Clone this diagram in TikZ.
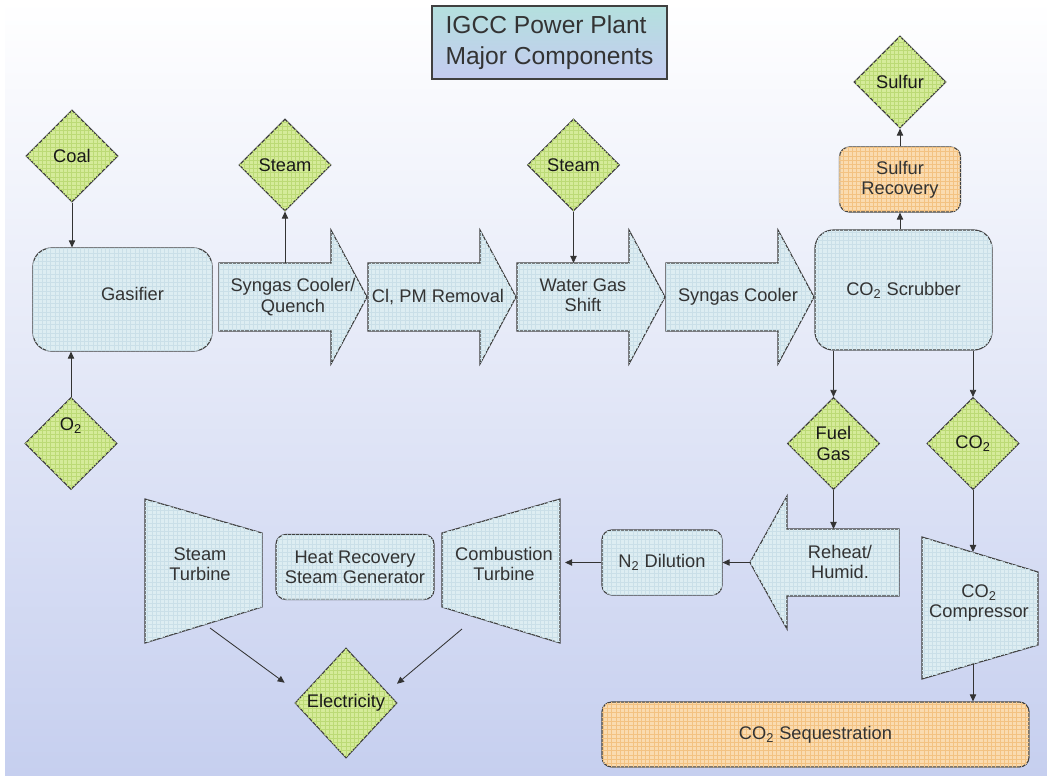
\documentclass[tikz,border=0pt]{standalone}
\usepackage{xcolor}
\usepackage{fontspec}
\setmainfont{Liberation Sans}
\usepackage{tikz}
\usetikzlibrary{shapes,arrows.meta,patterns,positioning,calc}

\definecolor{bgbot}{HTML}{C6CFEF}
\definecolor{ttltop}{HTML}{B4E0DE}
\definecolor{ttlbot}{HTML}{C4CBF0}
\definecolor{boxfill}{HTML}{DDEDF2}
\definecolor{boxgrid}{HTML}{CADFE8}
\definecolor{gfill}{HTML}{D5EB9A}
\definecolor{ggrid}{HTML}{BCDA76}
\definecolor{ofill}{HTML}{FADBB0}
\definecolor{ogrid}{HTML}{F3C282}
\definecolor{edge}{HTML}{404040}
\definecolor{txt}{HTML}{333333}

\newcommand{\pxu}{0.7113pt}

\begin{document}
\begin{tikzpicture}[x=0.025cm, y=-0.025cm,
    every node/.style={font=\fontsize{13}{14.5}\selectfont, text=txt},
    comp/.style={rectangle, rounded corners=7pt, draw=edge, line width=0.8pt, fill=boxfill,
        postaction={pattern=grid, pattern color=boxgrid}, align=center, inner sep=0pt},
    big/.style={comp, rounded corners=13pt},
    orange/.style={fill=ofill, postaction={pattern=grid, pattern color=ogrid}},
    diam/.style={diamond, draw=edge, line width=0.8pt, fill=gfill,
        postaction={pattern=grid, pattern color=ggrid},
        minimum width=92*\pxu, minimum height=92*\pxu, inner sep=0pt},
    dlab/.style={text=black!90, align=center},
    shapeline/.style={draw=edge, line width=0.8pt, fill=boxfill,
        postaction={pattern=grid, pattern color=boxgrid}},
    lbl/.style={align=center},
    arrow/.style={-{Triangle[length=5pt,width=4.5pt]}, line width=0.6pt, draw=black!80}]

    \useasboundingbox (0,0) rectangle (1047,776);
    \shade[top color=white, bottom color=bgbot] (0,0) rectangle (1047,776);
    \fill[white] (0,0) rectangle (5,776);

    % title
    \node[draw=edge, line width=0.8pt, top color=ttltop, bottom color=ttlbot, align=left,
        minimum width=235*\pxu, minimum height=73*\pxu,
        font=\fontsize{17.5}{22}\selectfont] (title) at (549.5,42.5)
        {IGCC Power Plant\\Major Components};

    % gasifier and inputs
    \node[big, minimum width=179*\pxu, minimum height=103*\pxu,
        label={[text=txt, xshift=10*\pxu, yshift=6*\pxu]center:Gasifier}] (gasif) at (122.5,299.5) {};
    \node[diam, label={[dlab]center:Coal}] (coal) at (72,156) {};
    \node[diam, label={[dlab, yshift=18*\pxu]center:O\textsubscript{2}}] (o2) at (71,443.5) {};

    % syngas line
    \foreach \l in {219,368,517,666}
        \draw[shapeline] (\l,263) -- ++(112,0) -- ++(0,-33) -- ++(36,67) -- ++(-36,67)
            -- ++(0,-33) -- ++(-112,0) -- cycle;
    \node[lbl] (sgq) at (293,297) {Syngas Cooler/\\Quench};
    \node[lbl] (clpm) at (438,297) {Cl, PM Removal};
    \node[lbl] (wgs) at (583,295) {Water Gas\\Shift};
    \node[lbl] (sgc) at (738,297) {Syngas Cooler};
    \coordinate (sgqtop) at (285,263);
    \coordinate (wgstop) at (573.5,263);
    \node[diam, label={[dlab]center:Steam}] (steamA) at (285,165) {};
    \node[diam, label={[dlab]center:Steam}] (steamB) at (573.5,165) {};

    % scrubber and sulfur
    \node[big, minimum width=177*\pxu, minimum height=120*\pxu] (scrub) at (903.5,290) {CO\textsubscript{2} Scrubber};
    \node[comp, orange, minimum width=121*\pxu, minimum height=65*\pxu] (sulrec) at (900,179.5) {Sulfur\\Recovery};
    \node[diam, label={[dlab]center:Sulfur}] (sulfur) at (900,82) {};
    \node[diam, label={[dlab]center:Fuel\\Gas}] (fuel) at (833.5,443.5) {};
    \node[diam, label={[dlab]center:CO\textsubscript{2}}] (co2d) at (973,443.5) {};

    % reheat arrow
    \draw[shapeline] (899,529) -- (787,529) -- (787,496) -- (750,562.5) -- (787,629)
        -- (787,596) -- (899,596) -- cycle;
    \node[lbl] (reheat) at (840,562) {Reheat/\\Humid.};
    \coordinate (rhtop) at (833.5,529);
    \coordinate (rhtip) at (750,562.5);
    \node[comp, minimum width=120*\pxu, minimum height=65*\pxu] (n2) at (662,562.5) {N\textsubscript{2} Dilution};

    % turbines
    \draw[shapeline] (145,499) -- (262,533) -- (262,607) -- (145,643) -- cycle;
    \node[lbl] (st) at (200,564) {Steam\\Turbine};
    \node[comp, minimum width=158*\pxu, minimum height=65*\pxu] (hrsg) at (355,567) {Heat Recovery\\Steam Generator};
    \draw[shapeline] (442,533) -- (560,499) -- (560,643) -- (442,607) -- cycle;
    \node[lbl] (ct) at (504,564) {Combustion\\Turbine};
    \coordinate (ctin) at (565,562.5);
    \coordinate (stout) at (210,628);
    \coordinate (ctout) at (462,629);
    \node[diam, minimum width=102*\pxu, minimum height=110*\pxu,
        label={[dlab]center:Electricity}] (elec) at (346,703) {};

    % compressor and sequestration
    \draw[shapeline] (922,537) -- (1038,572) -- (1038,645) -- (922,679) -- cycle;
    \node[lbl] (comp) at (979,603) {CO\textsubscript{2}\\Compressor};
    \coordinate (cmptop) at (973,552);
    \coordinate (cmpbot) at (973,664);
    \node[comp, orange, minimum width=427*\pxu, minimum height=65*\pxu] (seq) at (815.5,734.5) {CO\textsubscript{2} Sequestration};

    \draw[arrow] (coal.south) -- (coal.south |- gasif.north);
    \draw[arrow] (o2.north) -- (o2.north |- gasif.south);
    \draw[arrow] (sgqtop) -- (steamA.south);
    \draw[arrow] (steamB.south) -- (wgstop);
    \draw[arrow] (sulrec.south |- scrub.north) -- (sulrec.south);
    \draw[arrow] (sulrec.north) -- (sulfur.south);
    \draw[arrow] (fuel.north |- scrub.south) -- (fuel.north);
    \draw[arrow] (co2d.north |- scrub.south) -- (co2d.north);
    \draw[arrow] (fuel.south) -- (rhtop);
    \draw[arrow] (rhtip) -- (n2.east);
    \draw[arrow] (n2.west) -- (ctin);
    \draw[arrow] (co2d.south) -- (cmptop);
    \draw[arrow] (cmpbot) -- (cmpbot |- seq.north);
    \draw[arrow, shorten >=15pt] (stout) -- (elec.170);
    \draw[arrow, shorten >=9pt] (ctout) -- (elec.15);
\end{tikzpicture}
\end{document}
